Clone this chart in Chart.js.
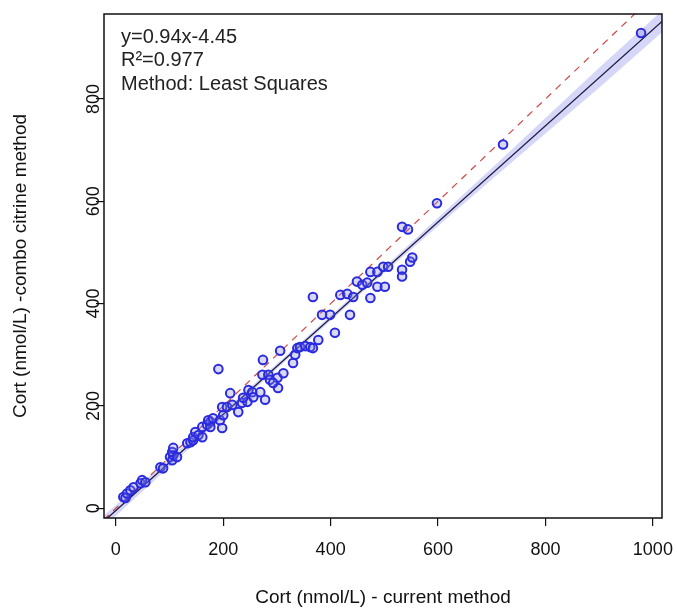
<!DOCTYPE html>
<html>
<head>
<meta charset="utf-8">
<script src="https://cdn.jsdelivr.net/npm/chart.js@4.4.0/dist/chart.umd.min.js"></script>
<style>
html, body { margin: 0; padding: 0; background: #fff; }
canvas { display: block; }
</style>
</head>
<body>
<canvas id="grafico" width="677" height="611"></canvas>
<script>
// valores
var currentMethod = [14, 18, 21, 27, 33, 46, 49, 55, 83, 88, 101, 105, 107, 105, 114, 107, 133, 139, 144, 144,
    148, 154, 161, 161, 170, 176, 176, 172, 181, 194, 198, 200, 198, 207, 217, 228, 235, 245, 237, 213,
    247, 254, 256, 269, 278, 273, 284, 287, 301, 312, 302, 293, 274, 191, 306, 330, 334, 338, 343, 353,
    362, 367, 377, 384, 399, 408, 436, 367, 418, 431, 442, 449, 459, 468, 474, 487, 487, 501, 474, 498,
    507, 533, 544, 533, 533, 548, 552, 598, 721, 978];
var comboMethod = [22, 20, 29, 35, 41, 49, 55, 51, 80, 78, 100, 94, 104, 110, 100, 118, 127, 129, 133, 139,
    149, 143, 139, 159, 163, 169, 159, 172, 176, 172, 157, 182, 198, 198, 202, 188, 206, 208, 216, 225,
    231, 227, 217, 227, 212, 261, 261, 251, 255, 264, 235, 245, 290, 272, 308, 284, 300, 313, 315, 317,
    315, 313, 329, 378, 378, 343, 378, 413, 417, 419, 413, 443, 437, 441, 462, 462, 433, 433, 411, 472,
    472, 550, 545, 466, 453, 482, 490, 596, 711, 929];
var xTicks = [0, 200, 400, 600, 800, 1000];
var yTicks = [0, 200, 400, 600, 800];
var fitX = [-22, 1017];
var fitY = [-25.13, 951.53];
var identityXY = [-40, 1040];
var bandX = [-22, 100, 200, 300, 400, 500, 600, 700, 800, 900, 1017];
var bandUpper = [-14.1, 97.6, 189.6, 282.6, 376.6, 471.1, 567.6, 664.6, 762.6, 861.1, 972.5];
var bandLower = [-36.1, 81.6, 177.6, 272.6, 366.6, 460.1, 551.6, 642.6, 732.6, 822.1, 930.5];
var legendLines = ['y=0.94x-4.45', 'R\u00B2=0.977', 'Method: Least Squares'];

var fonte = '"Liberation Sans", Arial, sans-serif';

function pares(xs, ys) {
    var r = [];
    for (var i = 0; i < xs.length; i++) r.push({ x: xs[i], y: ys[i] });
    return r;
}

// moldura e texto da regressao
var moldura = {
    id: 'moldura',
    afterDraw: function (chart) {
        var a = chart.chartArea, ctx = chart.ctx;
        ctx.save();
        ctx.strokeStyle = '#111';
        ctx.lineWidth = 1.5;
        ctx.strokeRect(a.left, a.top, a.right - a.left, a.bottom - a.top);
        ctx.fillStyle = '#222';
        ctx.font = '20px ' + fonte;
        ctx.textBaseline = 'middle';
        for (var i = 0; i < legendLines.length; i++) {
            ctx.fillText(legendLines[i], a.left + 17, a.top + 23 + i * 23.5);
        }
        ctx.restore();
    }
};

new Chart(document.getElementById('grafico'), {
    type: 'scatter',
    data: {
        datasets: [
            {
                data: pares(currentMethod, comboMethod),
                borderColor: '#2a2ae0',
                backgroundColor: 'rgba(130,130,220,0.3)',
                borderWidth: 2,
                pointRadius: 4.3,
                order: 0
            },
            {
                data: pares(fitX, fitY),
                showLine: true,
                borderColor: '#1a1a40',
                borderWidth: 1.3,
                pointRadius: 0,
                order: 1
            },
            {
                data: pares(identityXY, identityXY),
                showLine: true,
                borderColor: '#d04848',
                borderWidth: 1.2,
                borderDash: [7, 6],
                pointRadius: 0,
                order: 2
            },
            {
                data: pares(bandX, bandLower),
                showLine: true,
                borderWidth: 0,
                borderColor: 'rgba(0,0,0,0)',
                pointRadius: 0,
                order: 3
            },
            {
                data: pares(bandX, bandUpper),
                showLine: true,
                borderWidth: 0,
                borderColor: 'rgba(0,0,0,0)',
                backgroundColor: 'rgba(165,165,240,0.45)',
                fill: '-1',
                pointRadius: 0,
                order: 4
            }
        ]
    },
    options: {
        responsive: false,
        animation: false,
        devicePixelRatio: 1,
        layout: { padding: { top: 14, right: 15, left: 0, bottom: 0 } },
        plugins: { legend: { display: false }, tooltip: { enabled: false } },
        scales: {
            x: {
                type: 'linear',
                min: -22,
                max: 1017,
                afterBuildTicks: function (s) { s.ticks = xTicks.map(function (v) { return { value: v }; }); },
                afterFit: function (s) { s.height = 93; s.paddingLeft = 0; s.paddingRight = 0; },
                grid: { display: true, drawOnChartArea: false, drawTicks: true, tickLength: 8, color: '#111', lineWidth: 1.2 },
                border: { display: false },
                ticks: {
                    color: '#111', font: { size: 18, family: fonte }, padding: 13, maxRotation: 0, autoSkip: false,
                    callback: function (v) { return String(v); }
                },
                title: { display: true, text: 'Cort (nmol/L) - current method', color: '#111', font: { size: 19, family: fonte }, padding: { top: 0, bottom: 2 } }
            },
            y: {
                type: 'linear',
                min: -19,
                max: 966,
                afterBuildTicks: function (s) { s.ticks = yTicks.map(function (v) { return { value: v }; }); },
                afterFit: function (s) { s.width = 104; s.paddingTop = 0; s.paddingBottom = 0; },
                grid: { display: true, drawOnChartArea: false, drawTicks: true, tickLength: 8, color: '#111', lineWidth: 1.2 },
                border: { display: false },
                ticks: {
                    color: '#111', font: { size: 18, family: fonte }, padding: -13, minRotation: 90, maxRotation: 90, crossAlign: 'center', autoSkip: false,
                    callback: function (v) { return String(v); }
                },
                title: { display: true, text: 'Cort (nmol/L) -combo citrine method', color: '#111', font: { size: 19, family: fonte }, padding: { top: 9, bottom: 0 } }
            }
        }
    },
    plugins: [moldura]
});
</script>
</body>
</html>
